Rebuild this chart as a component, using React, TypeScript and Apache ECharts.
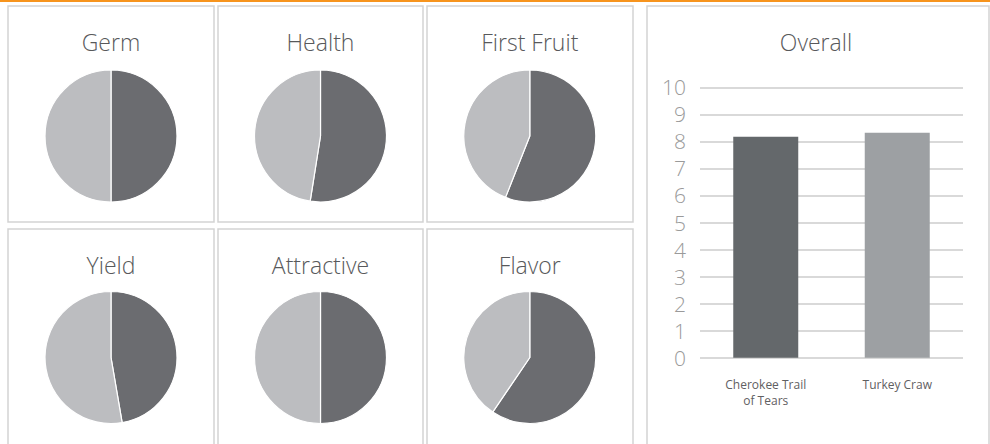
import React, { useEffect, useRef } from "react";
import * as echarts from "echarts";

const pieTitles = ["Germ", "Health", "First Fruit", "Yield", "Attractive", "Flavor"];
const darkShare = [50, 52.5, 56, 47.3, 50, 59.5];
const lightShare = [50, 47.5, 44, 52.7, 50, 40.5];

const barTitle = "Overall";
const barCategories = ["Cherokee Trail\nof Tears", "Turkey Craw"];
const overallScores = [8.17, 8.32];
const barColors = ["#64686b", "#9da0a3"];

const PIE_DARK = "#6b6c70";
const PIE_LIGHT = "#bcbdc0";
const FONT = "'Open Sans', sans-serif";

export default function App() {
  const ref = useRef<HTMLDivElement>(null);
  useEffect(() => {
    if (!ref.current) return;
    const chart = echarts.init(ref.current, undefined, { renderer: "svg" });

    const colX = [111, 320.5, 529.8];
    const rowY = [136, 357.5];
    const titleY = [42, 265];
    const panels = [
      [8, 6, 206, 216],
      [218, 6, 205, 216],
      [427, 6, 206, 216],
      [8, 229, 206, 230],
      [218, 229, 205, 230],
      [427, 229, 206, 230],
      [647, 6, 342, 450],
    ];

    const graphics: any[] = [
      { type: "rect", shape: { x: 0, y: 0, width: 990, height: 2 }, style: { fill: "#f7941d" }, silent: true },
    ];
    panels.forEach((p) => {
      graphics.push({
        type: "rect",
        shape: { x: p[0], y: p[1], width: p[2], height: p[3] },
        style: { fill: "none", stroke: "#d3d3d3", lineWidth: 1.5 },
        silent: true,
      });
    });
    pieTitles.forEach((t, i) => {
      const c = i % 3;
      const r = Math.floor(i / 3);
      graphics.push({
        type: "text",
        x: colX[c],
        y: titleY[r],
        style: { text: t, align: "center", verticalAlign: "middle", fontSize: 23, fontFamily: FONT, fontWeight: 300, fill: "#58595b" },
        silent: true,
      });
    });
    graphics.push({
      type: "text",
      x: 816,
      y: 42,
      style: { text: barTitle, align: "center", verticalAlign: "middle", fontSize: 23, fontFamily: FONT, fontWeight: 300, fill: "#58595b" },
      silent: true,
    });

    const pieSeries = pieTitles.map((t, i) => ({
      type: "pie",
      name: t,
      center: [colX[i % 3], rowY[Math.floor(i / 3)]],
      radius: 66,
      startAngle: 90,
      clockwise: true,
      label: { show: false },
      labelLine: { show: false },
      emphasis: { disabled: true },
      itemStyle: { borderColor: "#ffffff", borderWidth: 1.2 },
      data: [
        { name: "A", value: darkShare[i], itemStyle: { color: PIE_DARK } },
        { name: "B", value: lightShare[i], itemStyle: { color: PIE_LIGHT } },
      ],
    }));

    chart.setOption({
      animation: false,
      graphic: graphics,
      grid: { left: 700, right: 27, top: 87.3, bottom: 86.3, containLabel: false },
      xAxis: {
        type: "category",
        data: barCategories,
        axisLine: { show: false },
        axisTick: { show: false },
        axisLabel: { color: "#5f6062", fontSize: 12, fontFamily: FONT, lineHeight: 16, margin: 19 },
      },
      yAxis: {
        type: "value",
        min: 0,
        max: 10,
        interval: 1,
        axisLine: { show: false },
        axisTick: { show: false },
        axisLabel: { color: "#9a9a9a", fontSize: 21, fontFamily: FONT, fontWeight: 300, margin: 14 },
        splitLine: { lineStyle: { color: "#cccccc", width: 1.5 } },
      },
      series: [
        {
          type: "bar",
          barWidth: 65,
          data: overallScores.map((v, i) => ({ value: v, itemStyle: { color: barColors[i] } })),
        },
        ...pieSeries,
      ],
    } as any);
    return () => chart.dispose();
  }, []);
  return (
    <div
      ref={ref}
      style={{ position: "absolute", left: 0, top: 0, width: 990, height: 444, background: "#fff" }}
    />
  );
}
